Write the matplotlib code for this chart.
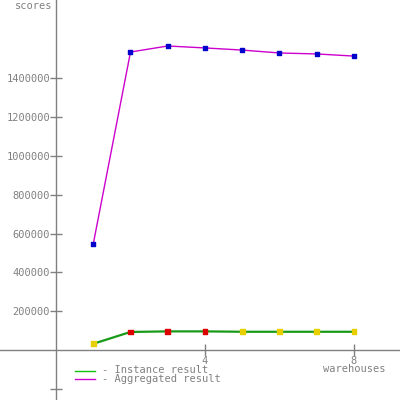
import matplotlib
matplotlib.use("Agg")
import matplotlib.pyplot as plt

warehouses = [1, 2, 3, 4, 5, 6, 7, 8]
aggregated = [546000, 1536000, 1567000, 1557000, 1546000, 1531000, 1526000, 1515000]
instance = [32000, 93000, 96000, 96000, 94000, 94000, 94000, 94000]
instance_colors = ["#e8d000", "#dd0000", "#dd0000", "#dd0000", "#e8d000", "#e8d000", "#e8d000", "#e8d000"]
y_ticks = [-200000, 200000, 400000, 600000, 800000, 1000000, 1200000, 1400000]
y_labels = ["", "200000", "400000", "600000", "800000", "1000000", "1200000", "1400000"]
x_ticks = [4, 8]
x_labels = ["4", "8"]

grey = "#808080"
fs = 7.5
mono = "DejaVu Sans Mono"

fig = plt.figure(figsize=(4, 4), dpi=100)
ax = fig.add_axes([0, 0, 1, 1])
ax.set_xlim(-1.503, 9.235)
ax.set_ylim(-257700, 1804100)

for s in ["top", "right"]:
    ax.spines[s].set_visible(False)
ax.spines["left"].set_position(("data", 0))
ax.spines["bottom"].set_position(("data", 0))
ax.spines["left"].set_color(grey)
ax.spines["bottom"].set_color(grey)
ax.spines["left"].set_linewidth(1)
ax.spines["bottom"].set_linewidth(1)

ax.set_yticks(y_ticks)
ax.set_yticklabels(y_labels, fontfamily=mono, fontsize=fs, color=grey)
ax.set_xticks(x_ticks)
ax.set_xticklabels(x_labels, fontfamily=mono, fontsize=fs, color=grey)
ax.tick_params(axis="both", direction="inout", length=8, width=1, color=grey, pad=0.2)

ax.plot(warehouses, aggregated, color="#cc00cc", lw=1, zorder=3)
ax.scatter(warehouses, aggregated, marker="s", s=12, color="#0000cc", zorder=4)
ax.plot(warehouses, instance, color="#189a18", lw=1.6, zorder=3)
ax.scatter(warehouses, instance, marker="s", s=12, color=instance_colors, zorder=4)

ax.text(0.13, 0.997, "scores", transform=ax.transAxes, ha="right", va="top",
        fontfamily=mono, fontsize=fs, color=grey)
ax.text(8, -74000, "warehouses", ha="center", va="top",
        fontfamily=mono, fontsize=fs, color=grey)

# legend
ax.plot([0.188, 0.238], [0.073, 0.073], transform=ax.transAxes, color="#11c011", lw=1)
ax.plot([0.188, 0.238], [0.053, 0.053], transform=ax.transAxes, color="#cc00cc", lw=1)
ax.text(0.255, 0.075, "- Instance result", transform=ax.transAxes, va="center",
        fontfamily=mono, fontsize=fs, color=grey)
ax.text(0.255, 0.053, "- Aggregated result", transform=ax.transAxes, va="center",
        fontfamily=mono, fontsize=fs, color=grey)

fig.savefig("out.png", dpi=100)
